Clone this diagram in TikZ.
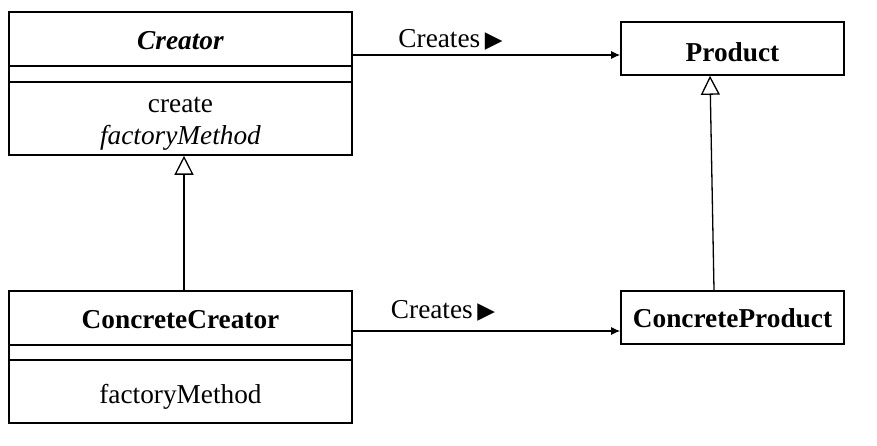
\documentclass[tikz,border=0pt]{standalone}
\usepackage{fontspec}
\setmainfont{Liberation Serif}
\newfontfamily\symfnt{DejaVu Sans}
\usetikzlibrary{arrows.meta}
\tikzset{
  box/.style={draw, line width=1.6pt, rectangle, inner sep=0pt, minimum width=343pt, align=center, text depth=0pt, font=\fontsize{27.3pt}{32pt}\selectfont},
  pbox/.style={box, minimum width=223pt, minimum height=53pt},
  lbl/.style={inner sep=0pt, anchor=base, font=\fontsize{27.3pt}{32pt}\selectfont},
  assoc/.style={line width=1.3pt, -{Latex[length=9pt,width=8pt]}},
  inh/.style={line width=1.3pt, -{Triangle[open,length=19pt,width=19pt,line width=1.3pt]}},
}
\newcommand{\tri}{{\symfnt\fontsize{23pt}{24pt}\selectfont ▶}}
\begin{document}
\begin{tikzpicture}[x=1pt,y=1pt]
\useasboundingbox (0,0) rectangle (877,445);
% Creator
\node[box, minimum height=54pt, text height=22pt] (cname) at (180.5,406) {\textbf{\textit{Creator}}};
\node[box, minimum height=16pt] (cattr) at (180.5,371) {};
\node[box, minimum height=73pt, text height=53pt] (cops) at (180.5,326.5) {create\\\textit{factoryMethod}};
% Product
\node[pbox, text height=26pt] (product) at (732.5,396.5) {\textbf{Product}};
% ConcreteCreator
\node[box, minimum height=54pt, text height=20.6pt] (ccname) at (180.5,127) {\textbf{ConcreteCreator}};
\node[box, minimum height=15pt] (ccattr) at (180.5,92.5) {};
\node[box, minimum height=63pt, text height=23.6pt] (ccops) at (180.5,53.5) {factoryMethod};
% ConcreteProduct
\node[pbox, text height=19pt] (cproduct) at (732.5,127.5) {\textbf{ConcreteProduct}};
% labels
\node[lbl] (lbl1) at (450.5,397) {Creates\,\tri};
\node[lbl] (lbl2) at (443,126.7) {Creates\,\tri};
% associations
\draw[assoc] ([yshift=-16pt]cname.east) -- ([yshift=-16pt]cname.east -| product.west);
\draw[assoc] ([yshift=-13pt]ccname.east) -- ([yshift=-13pt]ccname.east -| cproduct.west);
% inheritance
\draw[inh] ([xshift=3.5pt]ccname.north) -- ([xshift=3.5pt]cops.south);
\draw[inh] ([xshift=-18.5pt]cproduct.north) -- ([xshift=-22.5pt]product.south);
\end{tikzpicture}
\end{document}
